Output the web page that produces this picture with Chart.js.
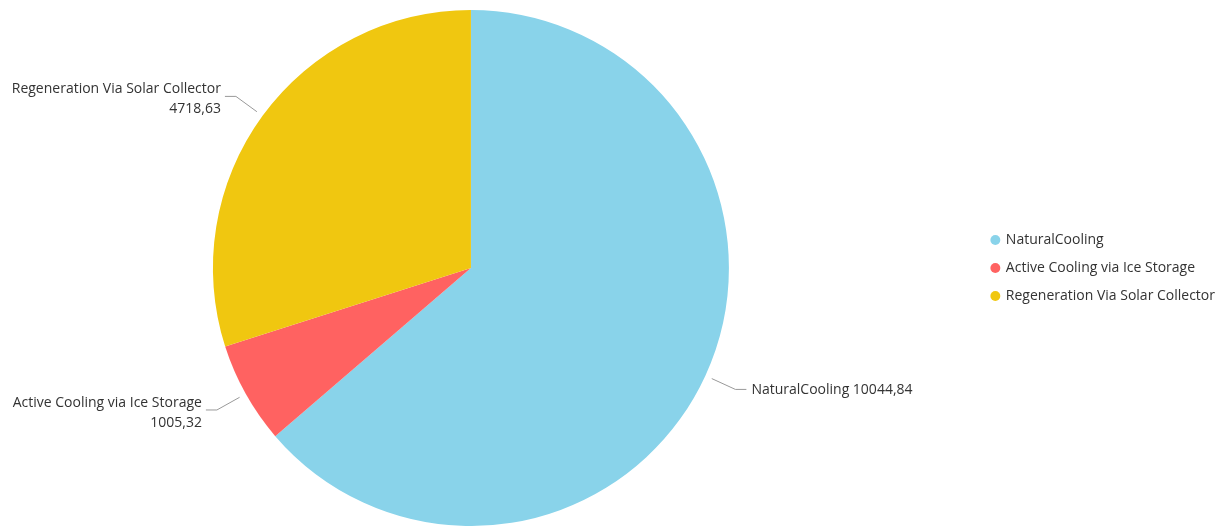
<!DOCTYPE html>
<html>
<head>
<meta charset="utf-8">
<script src="https://cdn.jsdelivr.net/npm/chart.js@4"></script>
<style>
    body { margin: 0; background: #fff; }
    #wrap { width: 1225px; height: 526px; position: relative; }
</style>
</head>
<body>
<div id="wrap"><canvas id="energyChart"></canvas></div>
<script>
var categories = ['NaturalCooling', 'Active Cooling via Ice Storage', 'Regeneration Via Solar Collector'];
var energyValues = [10044.84, 1005.32, 4718.63];
var sliceColors = ['rgb(137,211,234)', 'rgb(255,98,97)', 'rgb(240,199,16)'];

var FONT = '"Open Sans", sans-serif';

function fmtValue(v) {
    return v.toFixed(2).replace('.', ',');
}

// Outside labels with leader lines
var outsideLabels = {
    id: 'outsideLabels',
    afterDatasetsDraw: function(chart) {
        var ctx = chart.ctx;
        var meta = chart.getDatasetMeta(0);
        ctx.save();
        ctx.font = '14px ' + FONT;
        ctx.fillStyle = '#333';
        ctx.strokeStyle = '#999';
        ctx.lineWidth = 1;
        ctx.textBaseline = 'middle';
        meta.data.forEach(function(arc, i) {
            var p = arc.getProps(['x', 'y', 'startAngle', 'endAngle', 'outerRadius'], true);
            var mid = (p.startAngle + p.endAngle) / 2;
            var cos = Math.cos(mid), sin = Math.sin(mid);
            var x1 = p.x + cos * (p.outerRadius + 7), y1 = p.y + sin * (p.outerRadius + 7);
            var x2 = p.x + cos * (p.outerRadius + 33), y2 = p.y + sin * (p.outerRadius + 33);
            var dir = cos >= 0 ? 1 : -1;
            var x3 = x2 + dir * 11;
            ctx.beginPath();
            ctx.moveTo(x1, y1);
            ctx.lineTo(x2, y2);
            ctx.lineTo(x3, y2);
            ctx.stroke();
            var name = categories[i];
            var val = fmtValue(energyValues[i]);
            if (dir > 0) {
                ctx.textAlign = 'left';
                ctx.fillText(name + ' ' + val, x3 + 5, y2 + 1);
            } else {
                ctx.textAlign = 'right';
                ctx.fillText(name, x3 - 4, y2 - 7);
                ctx.fillText(val, x3 - 4, y2 + 13);
            }
        });
        ctx.restore();
    }
};

// empty box between the pie and the legend
var legendGap = {
    id: 'legendGap',
    beforeInit: function(chart) {
        Chart.layouts.addBox(chart, {
            position: 'right',
            weight: 0,
            fullSize: false,
            options: {},
            left: 0, right: 0, top: 0, bottom: 0, width: 0, height: 0,
            isHorizontal: function() { return false; },
            getPadding: function() { return { left: 0, right: 0, top: 0, bottom: 0 }; },
            update: function(w, h) { this.width = 36; this.height = h; },
            draw: function() {}
        });
    }
};

var ctx = document.getElementById('energyChart');
var myChart = new Chart(ctx, {
    type: 'pie',
    plugins: [outsideLabels, legendGap],
    options: {
        responsive: true,
        maintainAspectRatio: false,
        animation: false,
        layout: {
            padding: { left: 0, top: 10, right: 0, bottom: 0 }
        },
        plugins: {
            legend: {
                position: 'right',
                labels: {
                    usePointStyle: true,
                    pointStyle: 'circle',
                    boxWidth: 7,
                    boxHeight: 7,
                    padding: 14,
                    color: '#333',
                    font: { family: FONT, size: 14 }
                }
            },
            tooltip: { enabled: false }
        }
    },
    data: {
        labels: categories,
        datasets: [{
            data: energyValues,
            backgroundColor: sliceColors,
            borderWidth: 0
        }]
    }
});
</script>
</body>
</html>
